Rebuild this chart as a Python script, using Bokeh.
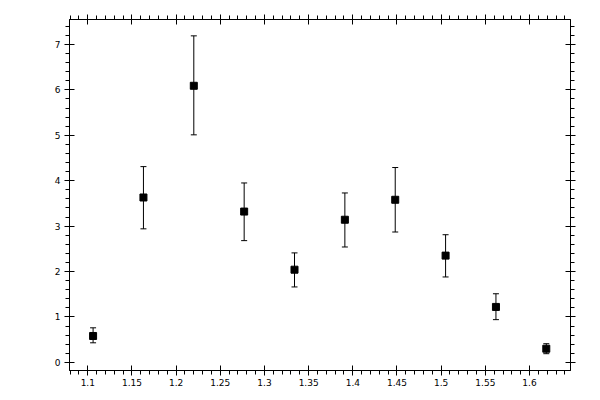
import numpy as np

from bokeh.plotting import figure
from bokeh.models import (ColumnDataSource, Whisker, TeeHead, LinearAxis,
                          SingleIntervalTicker, CustomJSTickFormatter, Range1d,
                          CustomLabelingPolicy)
from bokeh.embed import file_html
from bokeh.resources import INLINE

# values
x_vals = [1.106, 1.163, 1.220, 1.277, 1.334, 1.391, 1.448, 1.505, 1.562, 1.619]
y_vals = [0.58, 3.63, 6.09, 3.32, 2.04, 3.14, 3.58, 2.35, 1.22, 0.30]
y_upper = [0.76, 4.31, 7.19, 3.95, 2.41, 3.73, 4.29, 2.81, 1.51, 0.41]
y_lower = [0.43, 2.94, 5.01, 2.68, 1.66, 2.54, 2.87, 1.88, 0.94, 0.19]

source = ColumnDataSource(data={'x': x_vals, 'y': y_vals,
                                'upper': y_upper, 'lower': y_lower})

p = figure(width=592, height=392, output_backend="svg", toolbar_location=None,
           x_range=Range1d(1.0793, 1.6464), y_range=Range1d(-0.18, 7.55),
           min_border_left=69, min_border_top=19, min_border_right=22,
           min_border_bottom=22, x_axis_location=None, y_axis_location=None)
p.xgrid.visible = False
p.ygrid.visible = False
p.outline_line_color = 'black'
p.background_fill_color = 'white'
p.border_fill_color = 'white'

fmt_x = CustomJSTickFormatter(code="return String(Number(tick.toFixed(2)));")
fmt_y = CustomJSTickFormatter(code="return String(Number(tick.toFixed(1)));")
# top/right axes only carry ticks
no_labels = CustomLabelingPolicy(code="return new indices.constructor(indices.size);")

def make_axis(is_x, show_labels):
    if is_x:
        ticker = SingleIntervalTicker(interval=0.05, num_minor_ticks=5)
        ax = LinearAxis(ticker=ticker, formatter=fmt_x)
    else:
        ticker = SingleIntervalTicker(interval=1, num_minor_ticks=5)
        ax = LinearAxis(ticker=ticker, formatter=fmt_y)
    ax.axis_line_color = 'black'
    ax.major_tick_line_color = 'black'
    ax.minor_tick_line_color = 'black'
    ax.major_tick_in = 5
    ax.major_tick_out = 5
    ax.minor_tick_in = 0
    ax.minor_tick_out = 4
    ax.major_label_text_font = 'DejaVu Sans'
    ax.major_label_text_font_size = '9px'
    ax.major_label_text_color = 'black'
    ax.major_label_standoff = 3 if is_x else 4
    if not show_labels:
        ax.major_label_policy = no_labels
    return ax

p.add_layout(make_axis(True, True), 'below')
p.add_layout(make_axis(True, False), 'above')
p.add_layout(make_axis(False, True), 'left')
p.add_layout(make_axis(False, False), 'right')

p.add_layout(Whisker(source=source, base='x', upper='upper', lower='lower',
                     dimension='height', line_color='black', line_width=1,
                     upper_head=TeeHead(size=6, line_color='black', line_width=1),
                     lower_head=TeeHead(size=6, line_color='black', line_width=1)))
p.scatter('x', 'y', source=source, marker='square', size=7,
          fill_color='black', line_color='black')

open("out.html", "w").write(file_html(p, INLINE))
